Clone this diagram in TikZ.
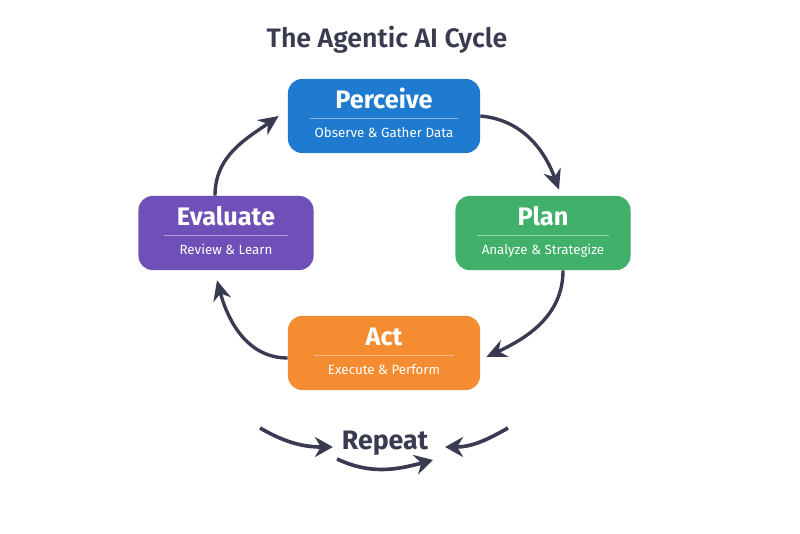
\documentclass[tikz,border=0pt]{standalone}
\usepackage{fontspec}
\setmainfont{Fira Sans}
\newfontfamily\titlefont[UprightFont=* SemiBold]{Fira Sans}
\usepackage{tikz}
\usetikzlibrary{arrows.meta,positioning}
\usepackage{xcolor}
\definecolor{inkgray}{HTML}{393B50}
\definecolor{perceiveblue}{HTML}{1F7BD0}
\definecolor{plangreen}{HTML}{40B06A}
\definecolor{evalpurple}{HTML}{6F4FB8}
\definecolor{actorange}{HTML}{F58C32}

\begin{document}
\begin{tikzpicture}[x=0.025cm, y=-0.025cm, every node/.style={font=\small}]
\tikzset{stage/.style={rounded corners=0.35cm, minimum height=1.85cm}}
\tikzset{head/.style={anchor=base, text=white, font=\bfseries\fontsize{18}{20}\selectfont}}
\tikzset{sub/.style={anchor=base, text=white, font=\fontsize{9.5}{11}\selectfont}}
\tikzset{divider/.style={white, opacity=0.45, line width=0.6pt}}
\tikzset{flow/.style={draw=inkgray, line width=2.4pt, -{Stealth[length=0.5cm,width=0.45cm]}}}
\tikzset{loopflow/.style={draw=inkgray, line width=2.6pt, -{Stealth[length=0.45cm,width=0.5cm]}}}
\useasboundingbox[fill=white] (0,0) rectangle (800,533);
\node[font=\titlefont\fontsize{19}{22}\selectfont, text=inkgray] (title) at (387,40) {The Agentic AI Cycle};
% the four stages
\node[stage, fill=perceiveblue, minimum width=4.8cm] (perceive) at (384,116) {};
\node[head] (perceivehead) at ([yshift=0.2cm]perceive.center) {Perceive};
\node[sub] (perceivesub) at ([yshift=-0.525cm]perceive.center) {Observe \& Gather Data};
\draw[divider] ([xshift=-1.85cm,yshift=-0.06cm]perceive.center) -- ([xshift=1.85cm,yshift=-0.06cm]perceive.center);
\node[stage, fill=plangreen, minimum width=4.375cm] (plan) at (543,233) {};
\node[head] (planhead) at ([yshift=0.2cm]plan.center) {Plan};
\node[sub] (plansub) at ([yshift=-0.525cm]plan.center) {Analyze \& Strategize};
\draw[divider] ([xshift=-1.65cm,yshift=-0.06cm]plan.center) -- ([xshift=1.65cm,yshift=-0.06cm]plan.center);
\node[stage, fill=actorange, minimum width=4.8cm] (act) at (384,353) {};
\node[head] (acthead) at ([yshift=0.2cm]act.center) {Act};
\node[sub] (actsub) at ([yshift=-0.525cm]act.center) {Execute \& Perform};
\draw[divider] ([xshift=-1.75cm,yshift=-0.06cm]act.center) -- ([xshift=1.75cm,yshift=-0.06cm]act.center);
\node[stage, fill=evalpurple, minimum width=4.375cm] (evaluate) at (226,233) {};
\node[head] (evaluatehead) at ([yshift=0.2cm]evaluate.center) {Evaluate};
\node[sub] (evaluatesub) at ([yshift=-0.525cm]evaluate.center) {Review \& Learn};
\draw[divider] ([xshift=-1.55cm,yshift=-0.06cm]evaluate.center) -- ([xshift=1.55cm,yshift=-0.06cm]evaluate.center);
% cycle arrows
\draw[flow] (perceive.east) to[out=-5,in=110] ([xshift=0.4cm,yshift=0.15cm]plan.north);
\draw[flow] ([xshift=0.5cm]plan.south) to[out=-90,in=25] ([xshift=0.15cm,yshift=-0.1cm]act.east);
\draw[flow] ([yshift=-0.125cm]act.west) to[out=180,in=-75] ([xshift=-0.225cm,yshift=-0.25cm]evaluate.south);
\draw[flow] ([xshift=-0.275cm]evaluate.north) to[out=90,in=-145] ([xshift=-0.225cm]perceive.west);
% repeat
\node[font=\bfseries\fontsize{19}{21}\selectfont, text=inkgray] (rep) at (385,443) {Repeat};
\coordinate (repleft) at (260,428);
\coordinate (repright) at (508,428);
\coordinate (repstart) at (337,459);
\coordinate (repend) at (433,460);
\draw[loopflow] (repleft) to[out=-30,in=180] ([xshift=-0.1cm,yshift=-0.1cm]rep.west);
\draw[loopflow] (repright) to[out=-150,in=0] ([xshift=0.3cm,yshift=-0.1cm]rep.east);
\draw[loopflow] (repstart) to[out=-25,in=195] (repend);
\end{tikzpicture}
\end{document}
